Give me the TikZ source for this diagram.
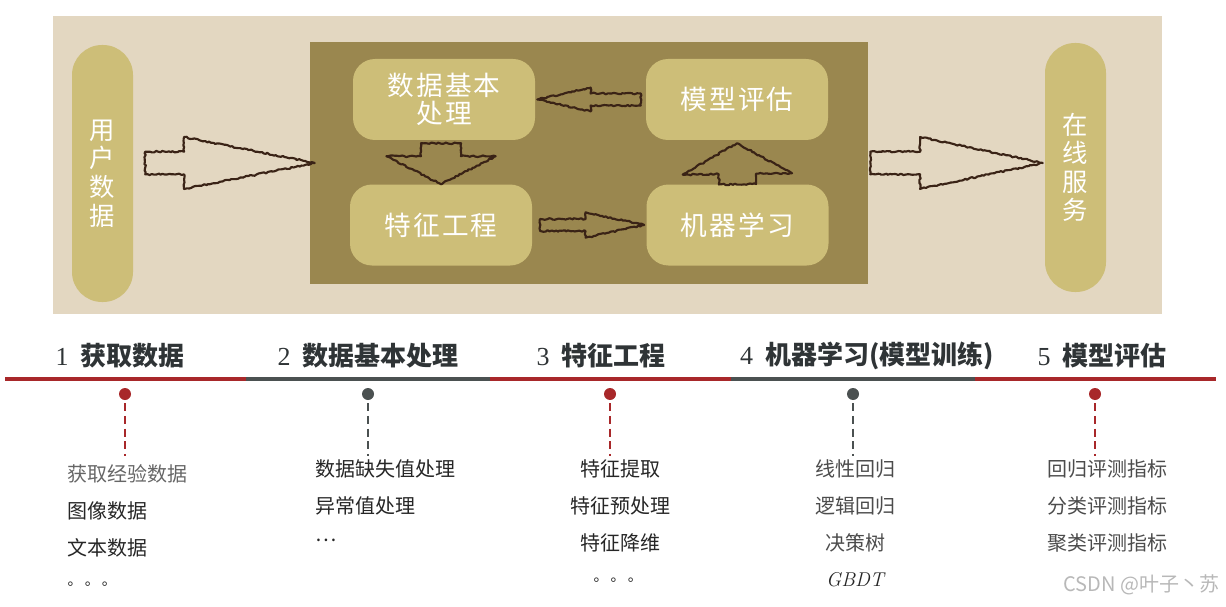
\documentclass[tikz,border=0pt]{standalone}
\usepackage{fontspec}
\usetikzlibrary{calc,decorations.pathmorphing}
\newfontfamily\cjk{Noto Sans CJK SC}
\newfontfamily\cjkwide[LetterSpace=8]{Noto Sans CJK SC}
\newfontfamily\numfont{Liberation Serif}
\definecolor{paper}{HTML}{E3D7C1}
\definecolor{olive}{HTML}{9A874F}
\definecolor{pill}{HTML}{CDBE78}
\definecolor{ink}{HTML}{3A2316}
\definecolor{barred}{HTML}{A8282A}
\definecolor{bargray}{HTML}{4B5151}
\definecolor{titlegray}{HTML}{2F3436}

% hollow sketchy block arrow: start, tip, shaft half width, head half width, head length
\newcommand{\hollowarrow}[5]{%
  \coordinate (ha) at (#1);
  \coordinate (hb) at ($(#2)!#5!(#1)$);
  \draw[sketch] ($(ha)!#3!90:(#2)$) -- ($(hb)!#3!-90:(ha)$) -- ($(hb)!#4!-90:(ha)$) -- (#2)
    -- ($(hb)!#4!90:(ha)$) -- ($(hb)!#3!90:(ha)$) -- ($(ha)!#3!-90:(#2)$) -- cycle;
}

\begin{document}
\begin{tikzpicture}[x=0.75pt, y=-0.75pt,
  pillbox/.style={fill=pill, rounded corners=22.5pt, minimum width=45.75pt, inner sep=0pt,
    text=white, align=center, font=\cjk\fontsize{19}{21.4}\selectfont},
  stepbox/.style={fill=pill, rounded corners=16.5pt, minimum width=136.5pt, minimum height=60.75pt,
    text=white, align=center, font=\cjkwide\fontsize{20}{21}\selectfont},
  sketch/.style={draw=ink, line width=1.6pt, line join=round, decorate,
    decoration={random steps, segment length=1.6pt, amplitude=0.6pt}},
  title/.style={text=titlegray, font=\cjk\bfseries\fontsize{19.5}{22}\selectfont},
  item/.style={text=black!85, font=\cjk\fontsize{15}{18}\selectfont},
  dot/.style={circle, inner sep=0pt, minimum size=9pt},
  stem/.style={line width=1.5pt, dash pattern=on 6pt off 3.5pt}]
\useasboundingbox (0,0) rectangle (1226,606);

% top panel
\fill[paper] (53,16) rectangle (1162,314);
\node[fill=olive, minimum width=418.5pt, minimum height=181.5pt, inner sep=0pt] (inner) at (589,163) {};
\node[pillbox, minimum height=192.75pt] (user) at (102.5,173.5) {用\\户\\数\\据};
\node[pillbox, minimum height=186.75pt] (online) at (1075.5,167.5) {在\\线\\服\\务};

\node[stepbox] (prep) at (444,99.5) {数据基本\\处理};
\node[stepbox] (eval) at (737,99.5) {模型评估};
\node[stepbox] (feat) at (441,225) {特征工程};
\node[stepbox] (ml) at (737.5,225) {机器学习};

% arrows
\coordinate (la) at ($(user.east |- inner.west)+(12,0)$);
\coordinate (lb) at ($(inner.west)+(5,0)$);
\hollowarrow{la}{lb}{8.5pt}{19.5pt}{98pt}
\coordinate (ra) at ($(inner.east)+(2,0)$);
\coordinate (rb) at ($(online.west |- inner.east)+(-2,0)$);
\hollowarrow{ra}{rb}{8.5pt}{19.5pt}{92pt}
\coordinate (da) at ($(prep.south)+(-3,3)$);
\coordinate (db) at (feat.north);
\hollowarrow{da}{db}{15pt}{41pt}{21pt}
\coordinate (ua) at (ml.north);
\coordinate (ub) at ($(eval.south)+(0,3)$);
\hollowarrow{ua}{ub}{14pt}{41pt}{23pt}
\coordinate (ea) at ($(eval.west)+(-5,0)$);
\coordinate (eb) at ($(prep.east)+(2,0)$);
\hollowarrow{ea}{eb}{4.5pt}{9pt}{40pt}
\coordinate (fa) at ($(feat.east)+(8,0)$);
\coordinate (fb) at ($(ml.west)+(-2,0)$);
\hollowarrow{fa}{fb}{4.5pt}{9.5pt}{44pt}

% timeline
\foreach \a/\b/\c in {5/246/barred, 246/490/bargray, 490/731/barred, 731/975/bargray, 975/1216/barred}
  \draw[\c, line width=3pt] (\a,379) -- (\b,379);

\node[title] (t1) at (120,356) {{\numfont\mdseries 1}\ \ 获取数据};
\node[title] (t2) at (368,356) {{\numfont\mdseries 2}\ \ 数据基本处理};
\node[title] (t3) at (601,356) {{\numfont\mdseries 3}\ \ 特征工程};
\node[title] (t4) at (867,356) {{\numfont\mdseries 4}\ \ 机器学习(模型训练)};
\node[title] (t5) at (1102,356) {{\numfont\mdseries 5}\ \ 模型评估};

\foreach \i/\x/\c in {1/125/barred, 2/368/bargray, 3/610/barred, 4/853/bargray, 5/1095/barred} {
  \node[dot, fill=\c] (d\i) at (\x,394) {};
  \coordinate (e\i) at (\x,456);
  \draw[stem, \c] ($(d\i.south)+(0,3)$) -- (e\i);
}

% items
\node[item, anchor=west, text=black!60] (a1) at (63,474) {获取经验数据};
\node[item, anchor=west] (a2) at (63,511) {图像数据};
\node[item, anchor=west] (a3) at (63,548) {文本数据};
\node[item, anchor=west, font=\cjk\fontsize{11}{12}\selectfont] (a4) at (63,584) {。\,。\,。};

\node[item, anchor=west] (b1) at (311,469) {数据缺失值处理};
\node[item, anchor=west] (b2) at (311,506) {异常值处理};
\node[item, anchor=west] (b3) at (311,540) {…};

\node[item] (c1) at (620,469) {特征提取};
\node[item] (c2) at (620,506) {特征预处理};
\node[item] (c3) at (620,543) {特征降维};
\node[item, font=\cjk\fontsize{11}{12}\selectfont] (c4) at (618,580) {。\,。\,。};

\node[item, text=black!70] (m1) at (855,469) {线性回归};
\node[item, text=black!70] (m2) at (855,506) {逻辑回归};
\node[item, text=black!70] (m3) at (855,543) {决策树};
\node[item, font=\itshape\fontsize{15}{18}\selectfont] (m4) at (855,580) {GBDT};

\node[item, text=black!70] (v1) at (1107,469) {回归评测指标};
\node[item, text=black!70] (v2) at (1107,506) {分类评测指标};
\node[item, text=black!70] (v3) at (1107,543) {聚类评测指标};

\node[item, anchor=east, text=black!28] (mark) at (1224,585) {CSDN @叶子丶苏};
\end{tikzpicture}
\end{document}
